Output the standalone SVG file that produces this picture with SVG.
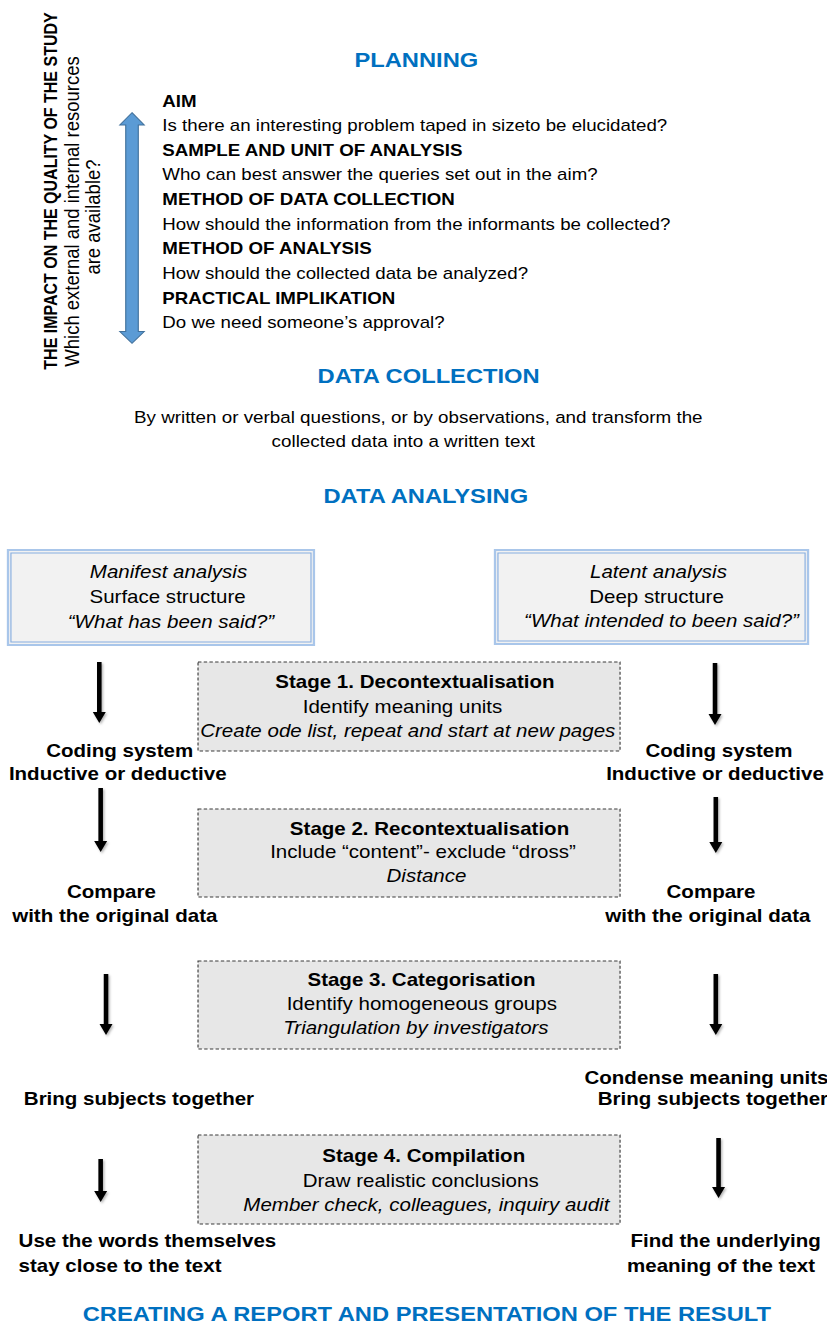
<svg xmlns="http://www.w3.org/2000/svg" width="827" height="1326" viewBox="0 0 827 1326">
<defs>
<style>
text{font-family:"Liberation Sans",Arial,sans-serif;fill:#000}
.h{font-weight:bold;font-size:20.8px;fill:#0070c0;text-anchor:middle}
.pb{font-weight:bold;font-size:16.4px}
.pr{font-size:16.4px}
.m{text-anchor:middle}
.s{font-size:18px}
.sb{font-size:18px;font-weight:bold}
.si{font-size:18px;font-style:italic}
.p{font-size:16.5px}
.stage{fill:#e7e7e7;stroke:#3a3a3a;stroke-width:1;stroke-dasharray:3 2}
.outer{fill:#f2f2f2;stroke:#a9c6ea;stroke-width:2}
.inner{fill:none;stroke:#86ade0;stroke-width:1}
.arr{fill:#000}
</style>
<filter id="sh" x="-50%" y="-10%" width="200%" height="130%">
<feDropShadow dx="1.2" dy="1.5" stdDeviation="1" flood-color="#000" flood-opacity="0.3"/>
</filter>
</defs>
<rect width="827" height="1326" fill="#fff"/>
<g transform="scale(1.14 1)">
<g id="planning">
<text class="h" x="365.2" y="66.7">PLANNING</text>
<text class="pb" x="142.4" y="107">AIM</text>
<text class="pr" x="142.4" y="131.5">Is there an interesting problem taped in sizeto be elucidated?</text>
<text class="pb" x="142.4" y="156">SAMPLE AND UNIT OF ANALYSIS</text>
<text class="pr" x="142.4" y="180.5">Who can best answer the queries set out in the aim?</text>
<text class="pb" x="142.4" y="205">METHOD OF DATA COLLECTION</text>
<text class="pr" x="142.4" y="230">How should the information from the informants be collected?</text>
<text class="pb" x="142.4" y="254.5">METHOD OF ANALYSIS</text>
<text class="pr" x="142.4" y="279">How should the collected data be analyzed?</text>
<text class="pb" x="142.4" y="304">PRACTICAL IMPLIKATION</text>
<text class="pr" x="142.4" y="328.5">Do we need someone’s approval?</text>
</g>
<g id="quality">
<text class="m" transform="translate(49.7 191) rotate(-90)" style="font-weight:bold;font-size:16px">THE IMPACT ON THE QUALITY OF THE STUDY</text>
<text class="m" transform="translate(69.3 211.5) rotate(-90)" style="font-size:18.5px">Which external and internal resources</text>
<text class="m" transform="translate(87.7 217) rotate(-90)" style="font-size:18.5px">are available?</text>
<path id="double-arrow" d="M115.8 112.7 L126.5 125 H121.3 V331.5 H126.5 L115.8 343.3 L105.1 331.5 H110.3 V125 H105.1 Z" fill="#5b9bd5" stroke="#41719c" stroke-width="1"/>
</g>
<g id="data-collection">
<text class="h" x="376" y="383.3">DATA COLLECTION</text>
<text class="p m" x="366.9" y="423.5">By written or verbal questions, or by observations, and transform the</text>
<text class="p m" x="353.8" y="447.5">collected data into a written text</text>
</g>
<g id="data-analysing">
<text class="h" x="373.5" y="502.7">DATA ANALYSING</text>
</g>
<g id="manifest">
<rect class="outer" x="7" y="550" width="268.4" height="95"/>
<rect class="inner" x="9.6" y="553" width="263.2" height="89"/>
<text class="si m" x="147.8" y="578">Manifest analysis</text>
<text class="s m" x="147" y="603">Surface structure</text>
<text class="si m" x="150" y="628">“What has been said?”</text>
</g>
<g id="latent">
<rect class="outer" x="434.2" y="550" width="274.6" height="94"/>
<rect class="inner" x="436.8" y="553" width="269.4" height="88"/>
<text class="si m" x="577.6" y="578">Latent analysis</text>
<text class="s m" x="575.9" y="603">Deep structure</text>
<text class="si m" x="580.3" y="627.5">“What intended to been said?”</text>
</g>
<g id="stage1">
<rect class="stage" x="173.7" y="662" width="370.2" height="89"/>
<text class="sb m" x="364" y="688.3">Stage 1. Decontextualisation</text>
<text class="s m" x="353.1" y="713.3">Identify meaning units</text>
<text class="si m" x="357.7" y="736.7">Create ode list, repeat and start at new pages</text>
</g>
<g id="stage2">
<rect class="stage" x="173.7" y="809" width="370.2" height="88"/>
<text class="sb m" x="376.8" y="835">Stage 2. Recontextualisation</text>
<text class="s m" x="371" y="858.3">Include “content”- exclude “dross”</text>
<text class="si m" x="374.1" y="881.7">Distance</text>
</g>
<g id="stage3">
<rect class="stage" x="173.7" y="961" width="370.2" height="88"/>
<text class="sb m" x="369.7" y="986">Stage 3. Categorisation</text>
<text class="s m" x="370" y="1010">Identify homogeneous groups</text>
<text class="si m" x="364.9" y="1034">Triangulation by investigators</text>
</g>
<g id="stage4">
<rect class="stage" x="173.7" y="1135" width="370.2" height="89"/>
<text class="sb m" x="371.7" y="1161.7">Stage 4. Compilation</text>
<text class="s m" x="369" y="1186.7">Draw realistic conclusions</text>
<text class="si m" x="374" y="1210.7">Member check, colleagues, inquiry audit</text>
</g>
<g id="left-labels">
<text class="sb m" x="105" y="756.7">Coding system</text>
<text class="sb m" x="103.3" y="780">Inductive or deductive</text>
<text class="sb m" x="97.7" y="898.3">Compare</text>
<text class="sb m" x="100.7" y="921.7">with the original data</text>
<text class="sb m" x="121.9" y="1105">Bring subjects together</text>
<text class="sb" x="16.3" y="1246.7">Use the words themselves</text>
<text class="sb" x="16.3" y="1271.7">stay close to the text</text>
</g>
<g id="right-labels">
<text class="sb m" x="630.7" y="756.7">Coding system</text>
<text class="sb m" x="627.2" y="780">Inductive or deductive</text>
<text class="sb m" x="623.7" y="898.3">Compare</text>
<text class="sb m" x="620.9" y="921.7">with the original data</text>
<text class="sb m" x="619.7" y="1084">Condense meaning units</text>
<text class="sb m" x="625.4" y="1105">Bring subjects together</text>
<text class="sb m" x="636.6" y="1246.7">Find the underlying</text>
<text class="sb m" x="632.5" y="1271.7">meaning of the text</text>
</g>
<g id="report">
<text class="h" x="374.4" y="1321">CREATING A REPORT AND PRESENTATION OF THE RESULT</text>
</g>
<g id="connectors" filter="url(#sh)">
<path class="arr" d="M85.1 662 H89.1 V712 H92.8 L87.1 723 L81.4 712 H85.1 Z"/>
<path class="arr" d="M625.2 663 H629.2 V714 H632.9 L627.2 725 L621.5 714 H625.2 Z"/>
<path class="arr" d="M86.3 788 H90.3 V841 H94 L88.3 852 L82.6 841 H86.3 Z"/>
<path class="arr" d="M625.9 797 H629.9 V842 H633.6 L627.9 853 L622.2 842 H625.9 Z"/>
<path class="arr" d="M91 974 H95 V1024 H98.7 L93 1035 L87.3 1024 H91 Z"/>
<path class="arr" d="M625.9 974 H629.9 V1024 H633.6 L627.9 1035 L622.2 1024 H625.9 Z"/>
<path class="arr" d="M86.3 1159 H90.3 V1191 H94 L88.3 1202 L82.6 1191 H86.3 Z"/>
<path class="arr" d="M628.3 1138 H632.3 V1187 H636 L630.3 1198 L624.6 1187 H628.3 Z"/>
</g>
</g>
</svg>
